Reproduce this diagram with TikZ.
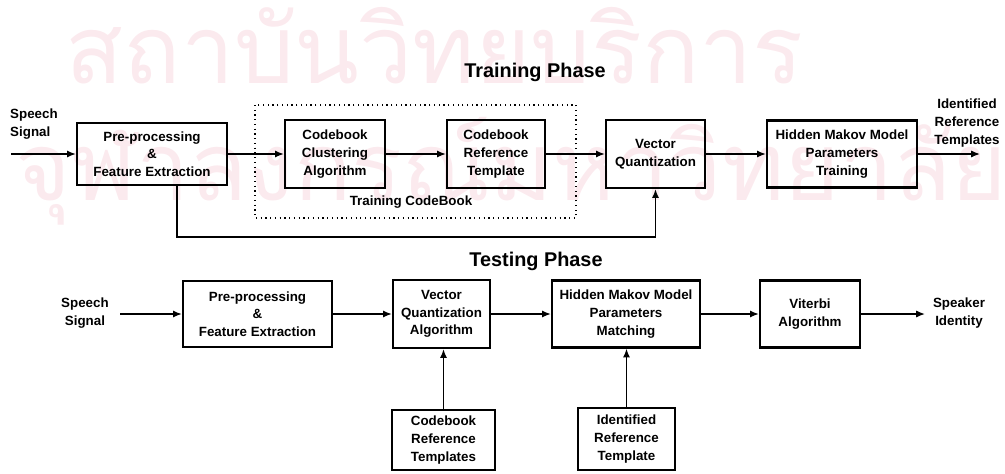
\documentclass[tikz,border=0pt]{standalone}
\usepackage{fontspec}
\setmainfont{Liberation Sans}
\newfontfamily\thaifont[Script=Thai]{Loma}
\usetikzlibrary{arrows.meta,positioning}
\definecolor{wmpink}{RGB}{251,234,238}
\newcommand{\boxfont}{\fontsize{7.6}{10}\selectfont\bfseries}
\newcommand{\ttlfont}{\fontsize{11.3}{13}\selectfont\bfseries}
\begin{document}
\begin{tikzpicture}[>={Latex[length=5pt,width=4pt]}, line width=0.8pt,
    blk/.style={draw, line width=1.3pt, align=center, inner sep=1pt, font=\boxfont},
    lab/.style={align=center, font=\boxfont, inner sep=0pt},
    ttl/.style={font=\ttlfont, inner sep=0pt},
    wm/.style={text=wmpink, font=\thaifont\fontsize{54}{60}\selectfont, inner sep=0pt, anchor=base west}]
    \useasboundingbox (0,0) rectangle (20.1,-9.46);

    % --- watermark ---
    \node[wm] (wmA) at (1.30,-1.66) {สถาบันวิทยบริการ};
    \node[wm] (wmB) at (0.30,-4.00) {จุฬาลงกรณ์มหาวิทยาลัย};

    % --- training phase ---
    \node[ttl] (trainT) at (10.70,-1.44) {Training Phase};
    \node[lab, align=left] (spA) at (0.68,-2.48) {Speech\\Signal};
    \coordinate (inA) at (0.22,-3.08);
    \node[blk, minimum width=3.0cm, minimum height=1.24cm] (preA) at (3.04,-3.08) {Pre-processing\\\&\\Feature Extraction};
    \node[blk, minimum width=2.0cm, minimum height=1.36cm] (clus) at (6.70,-3.08) {Codebook\\Clustering\\Algorithm};
    \node[blk, minimum width=1.96cm, minimum height=1.36cm] (cbA) at (9.92,-3.08) {Codebook\\Reference\\Template};
    \node[blk, minimum width=1.98cm, minimum height=1.36cm] (vqA) at (13.11,-3.08) {Vector\\Quantization};
    \node[blk, minimum width=3.0cm, minimum height=1.34cm] (hmmA) at (16.84,-3.08) {Hidden Makov Model\\Parameters\\Training};
    \coordinate (outA) at (19.60,-3.08);
    \node[lab] (idA) at (19.34,-2.46) {Identified\\Reference\\Templates};

    % training codebook (dotted frame)
    \draw[dotted, line width=0.7pt] (5.10,-2.10) rectangle (11.52,-4.36);
    \node[lab] (cbT) at (8.22,-4.04) {Training CodeBook};

    \draw[->] (inA) -- (preA);
    \draw[->] (preA) -- (clus);
    \draw[->] (clus) -- (cbA);
    \draw[->] (cbA) -- (vqA);
    \draw[->] (vqA) -- (hmmA);
    \draw[->] (hmmA) -- (outA);
    \coordinate (fb) at (3.54,-4.74);
    \draw[->] (preA.south -| fb) -- (fb) -| (vqA.south);

    % --- testing phase ---
    \node[ttl] (testT) at (10.72,-5.22) {Testing Phase};
    \node[lab] (spB) at (1.70,-6.26) {Speech\\Signal};
    \coordinate (inB) at (2.40,-6.28);
    \node[blk, minimum width=2.98cm, minimum height=1.32cm] (preB) at (5.15,-6.28) {Pre-processing\\\&\\Feature Extraction};
    \node[blk, minimum width=1.94cm, minimum height=1.36cm] (vqB) at (8.83,-6.28) {Vector\\Quantization\\Algorithm};
    \node[blk, minimum width=2.96cm, minimum height=1.34cm] (hmmB) at (12.52,-6.28) {Hidden Makov Model\\Parameters\\Matching};
    \node[blk, minimum width=2.0cm, minimum height=1.34cm] (vit) at (16.20,-6.28) {Viterbi\\Algorithm};
    \coordinate (outB) at (18.50,-6.28);
    \node[lab] (spk) at (19.18,-6.26) {Speaker\\Identity};
    \node[blk, minimum width=2.06cm, minimum height=1.2cm] (cbB) at (8.87,-8.80) {Codebook\\Reference\\Templates};
    \node[blk, minimum width=1.94cm, minimum height=1.24cm] (idB) at (12.53,-8.78) {Identified\\Reference\\Template};

    \draw[->] (inB) -- (preB);
    \draw[->] (preB) -- (vqB);
    \draw[->] (vqB) -- (hmmB);
    \draw[->] (hmmB) -- (vit);
    \draw[->] (vit) -- (outB);
    \draw[->] (cbB) -- (cbB |- vqB.south);
    \draw[->] (idB) -- (idB |- hmmB.south);
\end{tikzpicture}
\end{document}
